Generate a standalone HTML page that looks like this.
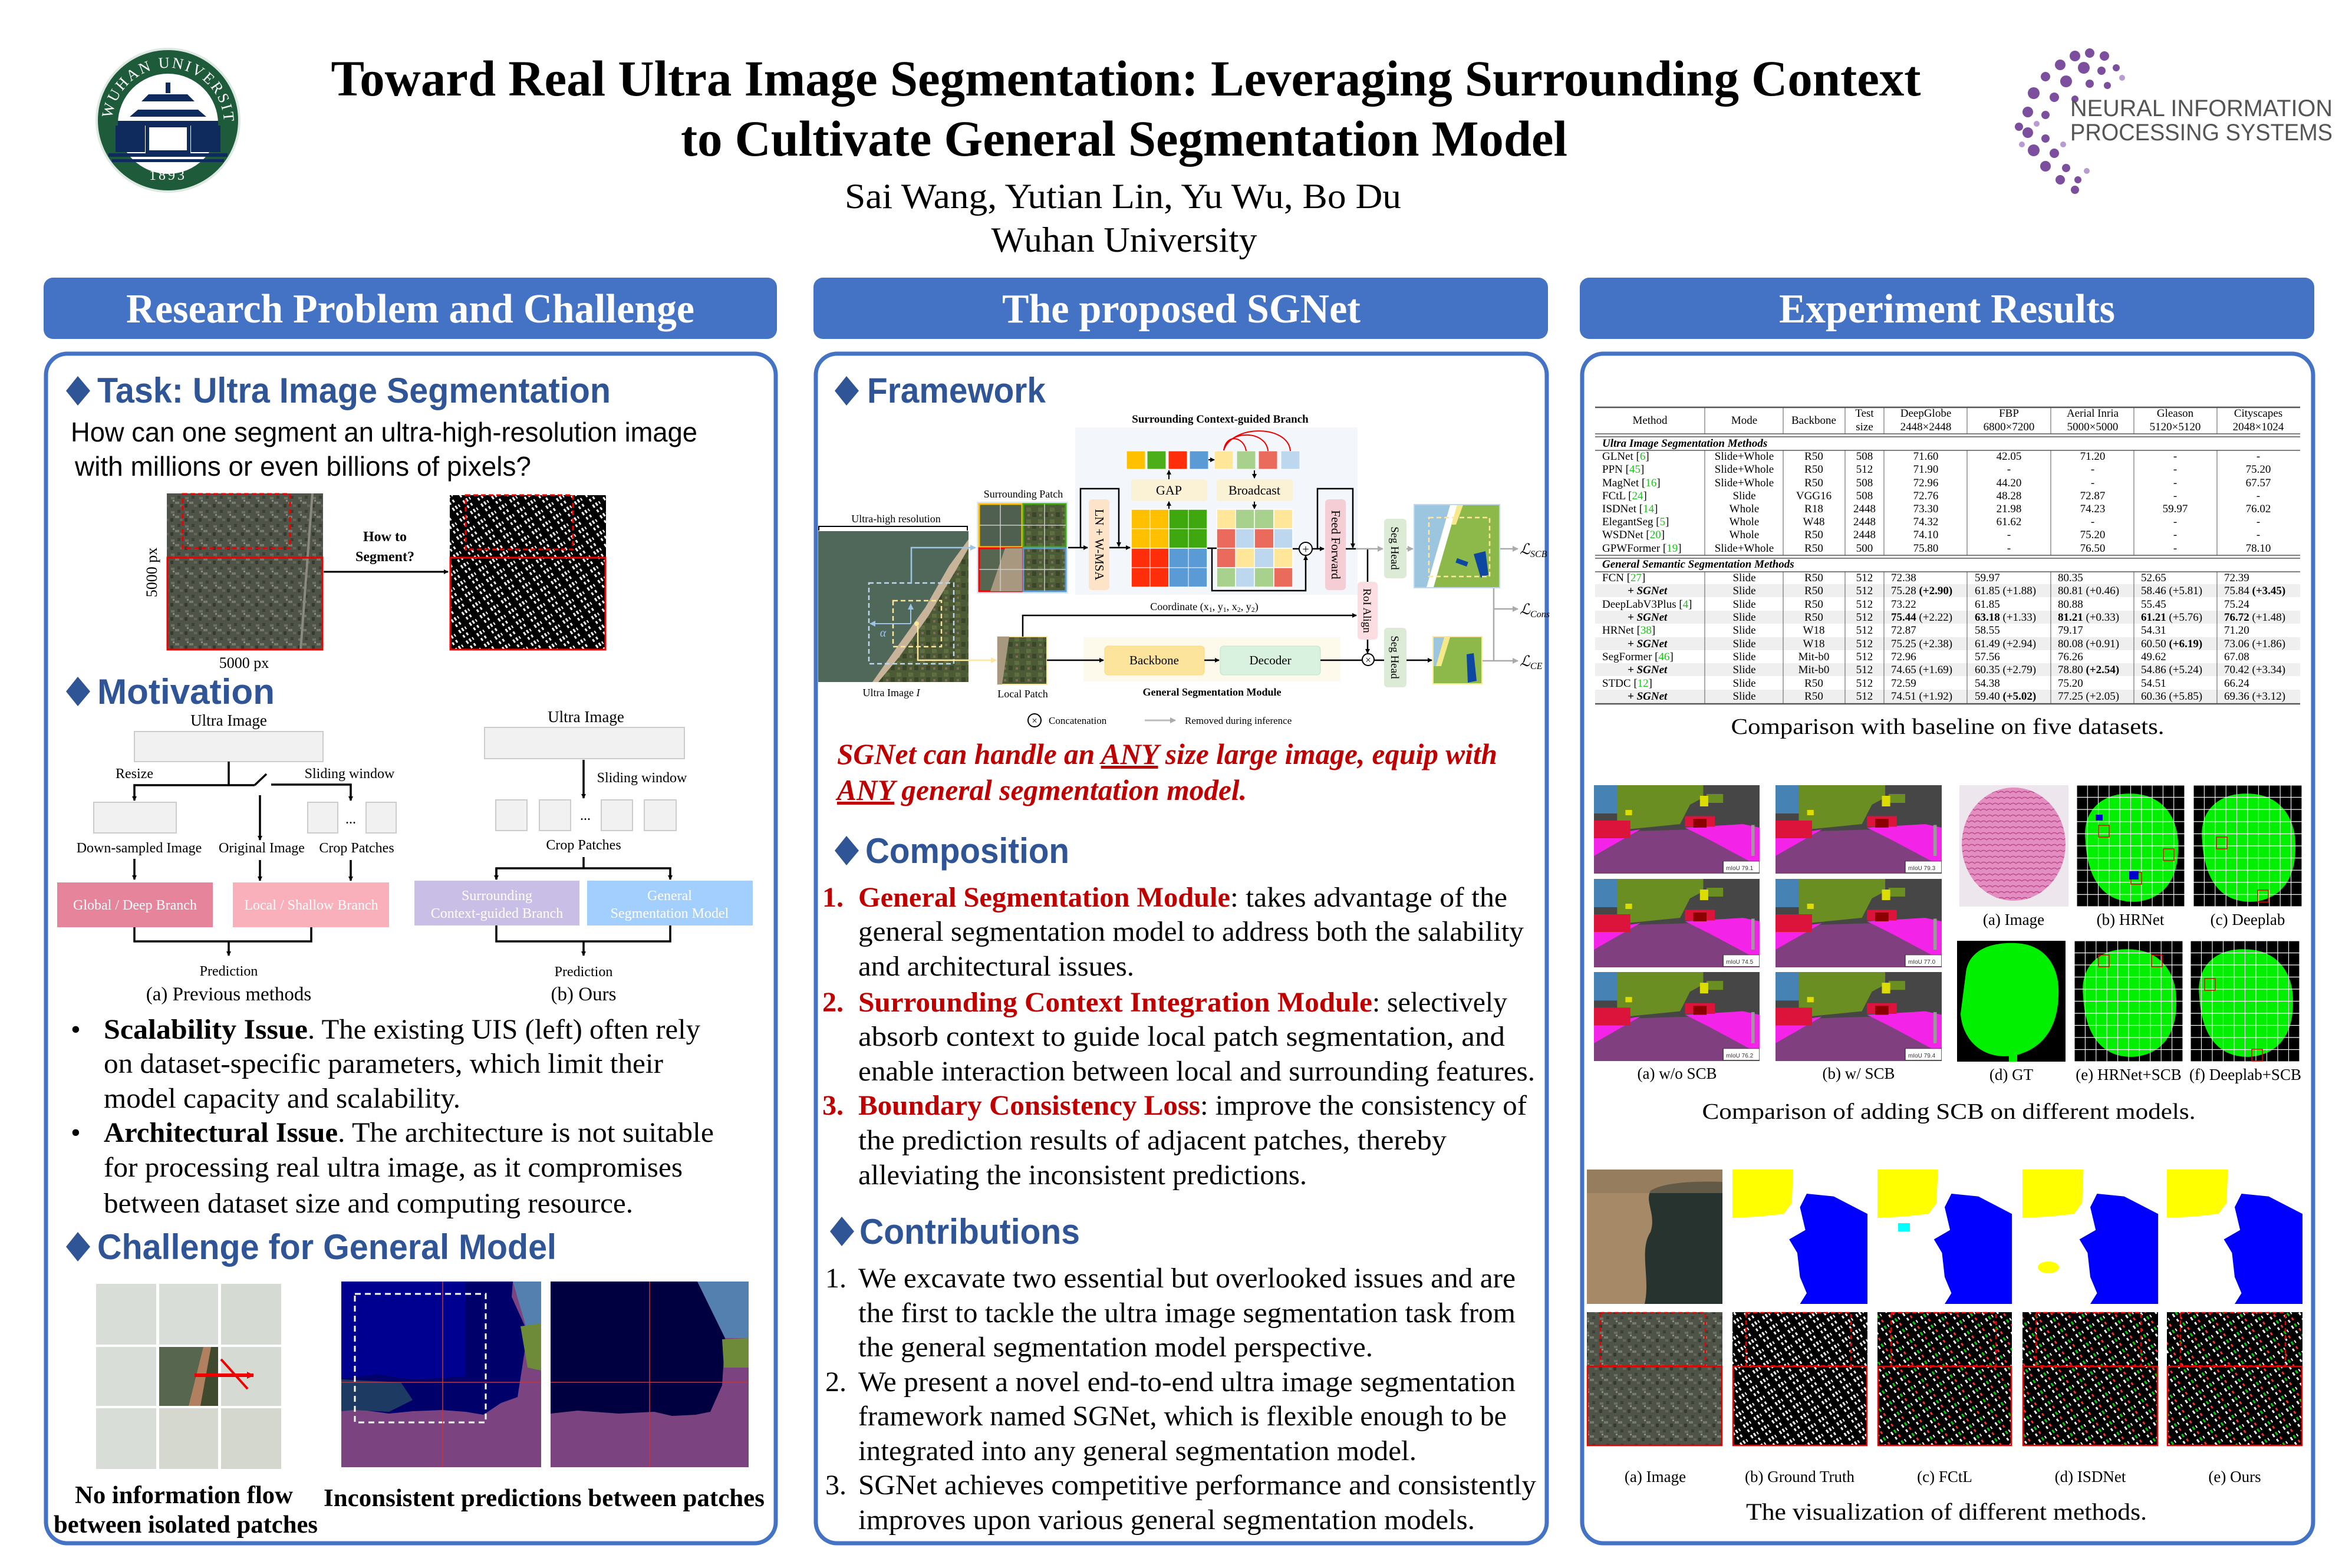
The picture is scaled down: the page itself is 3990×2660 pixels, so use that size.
<!DOCTYPE html>
<html><head><meta charset="utf-8"><style>
html,body{margin:0;padding:0;background:#fff}
svg{display:block}
.s{font-family:"Liberation Serif","Noto Serif CJK SC",serif}
.a{font-family:"Liberation Sans","Noto Sans CJK SC",sans-serif}
.h{font-family:"Liberation Sans",sans-serif;font-weight:bold;fill:#2F5597;font-size:60px}
.hd{font-family:"Liberation Serif",serif;fill:#fff;font-size:70px;text-anchor:middle;font-weight:bold}
.b{font-family:"Liberation Serif",serif;font-size:48px;fill:#000}
.r{fill:#C00000;font-weight:bold}
.t{font-family:"Liberation Serif",serif;font-size:19px;fill:#000}
.tc{text-anchor:middle}
.g{fill:#19C319}
.m{font-family:"Liberation Serif",serif;font-size:24px;fill:#000;text-anchor:middle}
.f{font-family:"Liberation Serif",serif;font-size:19px;fill:#000;text-anchor:middle}
.cap{font-family:"Liberation Serif",serif;font-size:27px;fill:#000;text-anchor:middle}
</style></head><body>
<svg width="3990" height="2660" viewBox="0 0 3990 2660" xmlns="http://www.w3.org/2000/svg">
<defs>
<marker id="ar" markerWidth="8" markerHeight="8" refX="7" refY="4" orient="auto" markerUnits="userSpaceOnUse"><path d="M0,0 L8,4 L0,8 z" fill="#000"/></marker>
<marker id="ag" markerWidth="10" markerHeight="10" refX="9" refY="5" orient="auto" markerUnits="userSpaceOnUse"><path d="M0,0 L10,5 L0,10 z" fill="#aaa"/></marker>
<marker id="ab" markerWidth="10" markerHeight="10" refX="9" refY="5" orient="auto" markerUnits="userSpaceOnUse"><path d="M0,0 L10,5 L0,10 z" fill="#9DC3E6"/></marker>
<marker id="ay" markerWidth="10" markerHeight="10" refX="9" refY="5" orient="auto" markerUnits="userSpaceOnUse"><path d="M0,0 L10,5 L0,10 z" fill="#FFE699"/></marker>
<marker id="ar2" markerWidth="12" markerHeight="12" refX="11" refY="6" orient="auto" markerUnits="userSpaceOnUse"><path d="M0,0 L12,6 L0,12 z" fill="#E00"/></marker>
<pattern id="aer" width="24" height="24" patternUnits="userSpaceOnUse">
<rect width="24" height="24" fill="#4f5448"/>
<rect x="2" y="3" width="6" height="4" fill="#6d7062"/><rect x="13" y="1" width="5" height="5" fill="#3b3f35"/>
<rect x="9" y="11" width="7" height="4" fill="#777a6c"/><rect x="1" y="15" width="5" height="6" fill="#363a31"/>
<rect x="17" y="16" width="5" height="4" fill="#6a6558"/><rect x="5" y="8" width="3" height="3" fill="#908d80"/>
</pattern>
<pattern id="bld" width="22" height="22" patternUnits="userSpaceOnUse" patternTransform="rotate(-35)">
<rect width="22" height="22" fill="#000"/>
<rect x="1" y="2" width="3" height="6" fill="#fff"/><rect x="7" y="2" width="3" height="6" fill="#fff"/><rect x="13" y="3" width="2" height="5" fill="#fff"/>
<rect x="2" y="13" width="3" height="5" fill="#fff"/><rect x="9" y="13" width="3" height="5" fill="#fff"/>
</pattern>
<pattern id="bldg" width="22" height="22" patternUnits="userSpaceOnUse" patternTransform="rotate(-35)">
<rect width="22" height="22" fill="#000"/>
<rect x="1" y="2" width="3" height="6" fill="#fff"/><rect x="7" y="2" width="3" height="6" fill="#0c0"/><rect x="13" y="3" width="2" height="5" fill="#fff"/>
<rect x="2" y="13" width="3" height="5" fill="#fff"/><rect x="9" y="13" width="3" height="5" fill="#e33"/>
</pattern>
<pattern id="land" width="20" height="20" patternUnits="userSpaceOnUse">
<rect width="20" height="20" fill="#4d5a36"/><rect x="1" y="1" width="8" height="7" fill="#5f6e40"/><rect x="11" y="9" width="7" height="8" fill="#3b4529"/><rect x="3" y="12" width="4" height="4" fill="#7b6d5a"/>
</pattern>
<pattern id="tis" width="10" height="10" patternUnits="userSpaceOnUse">
<rect width="10" height="10" fill="#E38DC0"/><path d="M0,5 Q5,0 10,5" stroke="#B94C8E" stroke-width="1.5" fill="none"/>
</pattern>
<symbol id="city" viewBox="0 0 100 100" preserveAspectRatio="none">
<rect width="100" height="100" fill="#464646"/>
<rect width="18" height="32" fill="#4682B4"/>
<polygon points="14,0 66,0 66,14 58,22 52,44 20,50 14,40" fill="#6B8E23"/>
<rect x="68" y="10" width="10" height="10" fill="#6B8E23"/>
<polygon points="0,100 0,70 25,52 60,50 100,68 100,100" fill="#804080"/>
<polygon points="55,48 90,44 100,48 100,92 70,62" fill="#F423E8"/>
<polygon points="0,58 28,50 0,80" fill="#F423E8"/>
<rect x="0" y="40" width="22" height="20" fill="#DC143C"/>
<rect x="55" y="35" width="18" height="12" fill="#DC143C"/>
<rect x="60" y="38" width="8" height="10" fill="#8B0000"/>
<rect x="64" y="12" width="5" height="12" fill="#DCDC00"/><rect x="19" y="28" width="4" height="6" fill="#DCDC00"/>
<rect x="95" y="45" width="2" height="35" fill="#999"/>
<rect x="78" y="86" width="22" height="13" fill="#fff" stroke="#333" stroke-width="0.5"/>
</symbol>
<symbol id="gl" viewBox="0 0 100 100" preserveAspectRatio="none">
<rect width="100" height="100" fill="#000"/>
<path d="M8,45 C5,20 25,6 50,7 C78,7 95,25 94,52 C94,78 80,94 55,96 C25,97 10,78 8,45 Z" fill="#00F000"/>
<rect width="100" height="100" fill="url(#g10)"/>
</symbol>
<pattern id="g10" width="10" height="10" patternUnits="userSpaceOnUse"><rect width="10" height="10" fill="none" stroke="#fff" stroke-width="0.6"/></pattern>
<symbol id="mask" viewBox="0 0 100 100" preserveAspectRatio="none">
<rect width="100" height="100" fill="#fff"/>
<polygon points="0,0 45,0 44,25 38,33 20,35 0,36" fill="#FFFF00"/>
<polygon points="100,33 75,20 55,18 50,28 54,45 42,52 48,62 50,80 55,92 50,100 100,100" fill="#0000FF"/>
</symbol>
</defs>

<!-- ===== HEADER ===== -->
<circle cx="285" cy="204" r="121" fill="#1E5B3A"/>
<circle cx="285" cy="204" r="121" fill="none" stroke="#dfe9e3" stroke-width="4"/>
<circle cx="285" cy="210" r="85" fill="#fff"/>
<path id="arc1" d="M190,210 A95,95 0 0 1 380,210" fill="none"/>
<text class="s" font-size="26" fill="#fff" letter-spacing="3"><textPath href="#arc1" startOffset="3%">WUHAN UNIVERSITY</textPath></text>
<g fill="#0F2A5C">
<rect x="281" y="140" width="8" height="18"/>
<polygon points="240,172 330,172 318,160 252,160"/>
<polygon points="220,198 350,198 336,186 234,186"/>
<rect x="200" y="205" width="170" height="8"/>
<rect x="196" y="213" width="50" height="45"/><rect x="324" y="213" width="50" height="45"/>
<rect x="250" y="213" width="70" height="45" fill="none" stroke="#0F2A5C" stroke-width="6"/>
<rect x="184" y="260" width="202" height="6"/><rect x="190" y="270" width="190" height="5"/>
</g>
<text class="s" x="285" y="305" font-size="24" fill="#fff" text-anchor="middle" letter-spacing="4">1893</text>

<text class="s" x="1910" y="162" font-size="86" font-weight="bold" text-anchor="middle" textLength="2697" lengthAdjust="spacingAndGlyphs">Toward Real Ultra Image Segmentation: Leveraging Surrounding Context</text>
<text class="s" x="1907" y="264" font-size="86" font-weight="bold" text-anchor="middle" textLength="1504" lengthAdjust="spacingAndGlyphs">to Cultivate General Segmentation Model</text>
<text class="s" x="1905" y="353" font-size="60" text-anchor="middle" textLength="944" lengthAdjust="spacingAndGlyphs">Sai Wang, Yutian Lin, Yu Wu, Bo Du</text>
<text class="s" x="1907" y="427" font-size="60" text-anchor="middle" textLength="451" lengthAdjust="spacingAndGlyphs">Wuhan University</text>

<g fill="#7B4F9E">
<circle cx="3520" cy="95" r="9"/><circle cx="3545" cy="90" r="8"/><circle cx="3570" cy="95" r="8"/><circle cx="3495" cy="110" r="9"/><circle cx="3535" cy="115" r="10"/><circle cx="3565" cy="120" r="7"/><circle cx="3590" cy="115" r="6"/>
<circle cx="3470" cy="130" r="8"/><circle cx="3505" cy="138" r="10"/><circle cx="3545" cy="142" r="7"/><circle cx="3575" cy="145" r="6"/>
<circle cx="3450" cy="158" r="10"/><circle cx="3485" cy="165" r="8"/><circle cx="3520" cy="168" r="6"/>
<circle cx="3440" cy="190" r="9"/><circle cx="3470" cy="195" r="7"/><circle cx="3425" cy="215" r="7"/>
<circle cx="3440" cy="225" r="9"/><circle cx="3470" cy="235" r="7"/><circle cx="3450" cy="255" r="10"/><circle cx="3485" cy="260" r="8"/>
<circle cx="3470" cy="282" r="9"/><circle cx="3505" cy="285" r="7"/><circle cx="3495" cy="305" r="8"/><circle cx="3525" cy="305" r="6"/><circle cx="3520" cy="322" r="7"/>
</g>
<g fill="#B89BD0"><circle cx="3600" cy="132" r="5"/><circle cx="3455" cy="210" r="5"/><circle cx="3430" cy="245" r="5"/><circle cx="3500" cy="245" r="5"/><circle cx="3540" cy="290" r="5"/></g>
<text class="a" x="3512" y="197" font-size="40" fill="#555" textLength="445" lengthAdjust="spacingAndGlyphs">NEURAL INFORMATION</text>
<text class="a" x="3512" y="238" font-size="40" fill="#555" textLength="445" lengthAdjust="spacingAndGlyphs">PROCESSING SYSTEMS</text>

<!-- ===== SECTION HEADERS & BOXES ===== -->
<g fill="#4472C4">
<rect x="74" y="471" width="1244" height="104" rx="16"/>
<rect x="1380" y="471" width="1246" height="104" rx="16"/>
<rect x="2680" y="471" width="1246" height="104" rx="16"/>
</g>
<text class="hd" x="696" y="547" textLength="964" lengthAdjust="spacingAndGlyphs">Research Problem and Challenge</text>
<text class="hd" x="2004" y="547" textLength="608" lengthAdjust="spacingAndGlyphs">The proposed SGNet</text>
<text class="hd" x="3303" y="547" textLength="570" lengthAdjust="spacingAndGlyphs">Experiment Results</text>
<g fill="none" stroke="#4472C4" stroke-width="7">
<rect x="78" y="600" width="1238" height="2018" rx="36"/>
<rect x="1384" y="600" width="1240" height="2018" rx="36"/>
<rect x="2684" y="600" width="1240" height="2018" rx="36"/>
</g>

<!-- ===== LEFT COLUMN ===== -->
<polygon points="132,638 153,663 132,688 112,663" fill="#2F5597"/>
<text class="h" x="165" y="683" textLength="871" lengthAdjust="spacingAndGlyphs">Task: Ultra Image Segmentation</text>
<text class="a" x="120" y="749" font-size="46" textLength="1063" lengthAdjust="spacingAndGlyphs">How can one segment an ultra-high-resolution image</text>
<text class="a" x="127" y="807" font-size="46" textLength="774" lengthAdjust="spacingAndGlyphs">with millions or even billions of pixels?</text>
<rect x="283" y="837" width="265" height="265" fill="url(#aer)"/>
<line x1="530" y1="837" x2="510" y2="1102" stroke="#8a8a80" stroke-width="4"/>
<rect x="284" y="946" width="263" height="156" fill="none" stroke="#E00" stroke-width="3"/>
<rect x="310" y="838" width="182" height="92" fill="none" stroke="#E00" stroke-width="3" stroke-dasharray="8,5"/>
<rect x="763" y="840" width="265" height="262" fill="url(#bld)"/>
<rect x="764" y="946" width="263" height="156" fill="none" stroke="#E00" stroke-width="3"/>
<rect x="790" y="840" width="182" height="92" fill="none" stroke="#E00" stroke-width="3" stroke-dasharray="8,5"/>
<line x1="549" y1="970" x2="760" y2="970" stroke="#000" stroke-width="3" marker-end="url(#ar)"/>
<text class="s" x="653" y="918" font-size="24" font-weight="bold" text-anchor="middle">How to</text>
<text class="s" x="653" y="952" font-size="24" font-weight="bold" text-anchor="middle">Segment?</text>
<text class="s" x="0" y="0" font-size="26" text-anchor="middle" transform="translate(266,971) rotate(-90)">5000 px</text>
<text class="s" x="414" y="1133" font-size="26" text-anchor="middle">5000 px</text>

<polygon points="132,1148 153,1173 132,1198 112,1173" fill="#2F5597"/>
<text class="h" x="165" y="1194" textLength="301" lengthAdjust="spacingAndGlyphs">Motivation</text>

<!-- motivation (a) -->
<text class="m" x="388" y="1231" style="font-size:27px">Ultra Image</text>
<rect x="228" y="1241" width="320" height="51" fill="#F1F1F1" stroke="#ccc" stroke-width="2"/>
<g stroke="#000" stroke-width="3.5" fill="none">
<line x1="388" y1="1292" x2="388" y2="1332"/>
<polyline points="432,1332 228,1332 228,1358" marker-end="url(#ar)"/>
<line x1="432" y1="1332" x2="452" y2="1313"/>
<polyline points="460,1331 595,1331 595,1358" marker-end="url(#ar)"/>
<line x1="441" y1="1349" x2="441" y2="1425" marker-end="url(#ar)"/>
<line x1="228" y1="1457" x2="228" y2="1492" marker-end="url(#ar)"/>
<line x1="441" y1="1459" x2="441" y2="1494" marker-end="url(#ar)"/>
<line x1="595" y1="1459" x2="595" y2="1494" marker-end="url(#ar)"/>
<polyline points="228,1573 228,1597 528,1597 528,1573"/>
<line x1="388" y1="1597" x2="388" y2="1621" marker-end="url(#ar)"/>
</g>
<text class="m" x="228" y="1320">Resize</text>
<text class="m" x="593" y="1320">Sliding window</text>
<rect x="159" y="1361" width="140" height="52" fill="#F1F1F1" stroke="#ccc" stroke-width="2"/>
<rect x="522" y="1361" width="51" height="52" fill="#F1F1F1" stroke="#ccc" stroke-width="2"/>
<rect x="621" y="1361" width="51" height="52" fill="#F1F1F1" stroke="#ccc" stroke-width="2"/>
<text class="m" x="595" y="1397">...</text>
<text class="m" x="236" y="1446">Down-sampled Image</text>
<text class="m" x="444" y="1446">Original Image</text>
<text class="m" x="605" y="1446">Crop Patches</text>
<rect x="97" y="1497" width="264" height="76" fill="#E6849C"/>
<rect x="395" y="1497" width="265" height="76" fill="#F9B0BB"/>
<text class="m" x="229" y="1543" style="fill:#fff">Global / Deep Branch</text>
<text class="m" x="528" y="1543" style="fill:#fff">Local / Shallow Branch</text>
<text class="m" x="388" y="1655">Prediction</text>
<text class="m" x="388" y="1697" style="font-size:33px">(a) Previous methods</text>
<!-- motivation (b) -->
<text class="m" x="994" y="1225" style="font-size:27px">Ultra Image</text>
<rect x="822" y="1234" width="339" height="53" fill="#F1F1F1" stroke="#ccc" stroke-width="2"/>
<g stroke="#000" stroke-width="3.5" fill="none">
<line x1="990" y1="1289" x2="990" y2="1354" marker-end="url(#ar)"/>
<line x1="990" y1="1454" x2="990" y2="1473"/>
<polyline points="842,1492 842,1473 1137,1473 1137,1492" marker-end="url(#ar)"/>
<polyline points="842,1570 842,1597 1137,1597 1137,1570"/>
<line x1="990" y1="1597" x2="990" y2="1621" marker-end="url(#ar)"/>
</g>
<line x1="842" y1="1473" x2="842" y2="1492" stroke="#000" stroke-width="3.5" marker-end="url(#ar)"/>
<text class="m" x="1089" y="1327">Sliding window</text>
<rect x="841" y="1357" width="53" height="52" fill="#F1F1F1" stroke="#ccc" stroke-width="2"/>
<rect x="915" y="1357" width="53" height="52" fill="#F1F1F1" stroke="#ccc" stroke-width="2"/>
<rect x="1020" y="1357" width="53" height="52" fill="#F1F1F1" stroke="#ccc" stroke-width="2"/>
<rect x="1093" y="1357" width="54" height="52" fill="#F1F1F1" stroke="#ccc" stroke-width="2"/>
<text class="m" x="993" y="1391">...</text>
<text class="m" x="990" y="1441">Crop Patches</text>
<rect x="703" y="1494" width="280" height="76" fill="#C8BEE6"/>
<rect x="996" y="1494" width="281" height="76" fill="#A3CFFF"/>
<text class="m" x="843" y="1527" style="fill:#fff">Surrounding</text>
<text class="m" x="843" y="1557" style="fill:#fff">Context-guided Branch</text>
<text class="m" x="1136" y="1527" style="fill:#fff">General</text>
<text class="m" x="1136" y="1557" style="fill:#fff">Segmentation Model</text>
<text class="m" x="990" y="1656">Prediction</text>
<text class="m" x="990" y="1697" style="font-size:33px">(b) Ours</text>

<!-- bullets -->
<g class="b">
<text x="120" y="1762">•</text>
<text x="176" y="1762" font-weight="bold" textLength="346" lengthAdjust="spacingAndGlyphs">Scalability Issue</text>
<text x="522" y="1762" textLength="666" lengthAdjust="spacingAndGlyphs">. The existing UIS (left) often rely</text>
<text x="176" y="1820" textLength="949" lengthAdjust="spacingAndGlyphs">on dataset-specific parameters, which limit their</text>
<text x="176" y="1879" textLength="605" lengthAdjust="spacingAndGlyphs">model capacity and scalability.</text>
<text x="120" y="1937">•</text>
<text x="176" y="1937" font-weight="bold" textLength="397" lengthAdjust="spacingAndGlyphs">Architectural Issue</text>
<text x="573" y="1937" textLength="638" lengthAdjust="spacingAndGlyphs">. The architecture is not suitable</text>
<text x="176" y="1996" textLength="982" lengthAdjust="spacingAndGlyphs">for processing real ultra image, as it compromises</text>
<text x="176" y="2057" textLength="898" lengthAdjust="spacingAndGlyphs">between dataset size and computing resource.</text>
</g>

<polygon points="132,2090 153,2115 132,2140 112,2115" fill="#2F5597"/>
<text class="h" x="165" y="2136" textLength="779" lengthAdjust="spacingAndGlyphs">Challenge for General Model</text>
<g fill="#D8DDD8">
<rect x="163" y="2178" width="102" height="103"/><rect x="270" y="2178" width="100" height="103"/><rect x="375" y="2178" width="102" height="103" fill="#D5DAD2"/>
<rect x="163" y="2285" width="102" height="100"/><rect x="375" y="2285" width="102" height="100" fill="#D5DAD2"/>
<rect x="163" y="2389" width="102" height="103"/><rect x="270" y="2389" width="100" height="103" fill="#D5D8CF"/><rect x="375" y="2389" width="102" height="103" fill="#D3D7CE"/>
</g>
<rect x="270" y="2285" width="100" height="100" fill="#56664F"/>
<polygon points="345,2285 370,2285 370,2385 320,2385" fill="#B08060"/>
<polygon points="358,2285 370,2285 370,2385 340,2385" fill="#3F4A2E"/>
<line x1="330" y1="2333" x2="430" y2="2333" stroke="#E00" stroke-width="6" marker-end="url(#ar2)"/>
<line x1="375" y1="2306" x2="420" y2="2356" stroke="#E00" stroke-width="4"/>
<rect x="579" y="2174" width="339" height="315" fill="#7B4380"/>
<polygon points="579,2174 870,2174 868,2200 895,2260 878,2370 850,2380 820,2400 790,2395 750,2392 700,2394 660,2398 600,2390 579,2392" fill="#00006A"/>
<polygon points="579,2174 790,2174 790,2335 700,2340 640,2332 579,2338" fill="#000090"/>
<polygon points="579,2340 680,2345 700,2375 660,2395 600,2392 579,2394" fill="#1D3B62"/>
<polygon points="870,2174 918,2174 918,2275 895,2260" fill="#5480B0"/>
<polygon points="883,2250 918,2245 918,2325 895,2320" fill="#6E8B3A"/>
<rect x="602" y="2195" width="222" height="218" fill="none" stroke="#fff" stroke-width="3" stroke-dasharray="10,7"/>
<line x1="579" y1="2345" x2="918" y2="2345" stroke="#C33" stroke-width="1.5"/>
<line x1="751" y1="2174" x2="751" y2="2489" stroke="#C33" stroke-width="1.5"/>
<rect x="934" y="2174" width="336" height="315" fill="#7B4380"/>
<polygon points="934,2174 1183,2174 1230,2270 1225,2350 1205,2395 1180,2400 1140,2402 1110,2395 1050,2398 980,2393 934,2398" fill="#000040"/>
<polygon points="1183,2174 1270,2174 1270,2270 1230,2270" fill="#5480B0"/>
<polygon points="1225,2272 1270,2270 1270,2320 1228,2320" fill="#6E8B3A"/>
<line x1="934" y1="2345" x2="1270" y2="2345" stroke="#C33" stroke-width="1.5"/>
<line x1="1102" y1="2174" x2="1102" y2="2489" stroke="#C33" stroke-width="1.5"/>
<text class="s" x="312" y="2550" font-size="42" font-weight="bold" text-anchor="middle" textLength="370" lengthAdjust="spacingAndGlyphs">No information flow</text>
<text class="s" x="315" y="2600" font-size="42" font-weight="bold" text-anchor="middle" textLength="448" lengthAdjust="spacingAndGlyphs">between isolated patches</text>
<text class="s" x="923" y="2555" font-size="42" font-weight="bold" text-anchor="middle" textLength="748" lengthAdjust="spacingAndGlyphs">Inconsistent predictions between patches</text>

<!-- ===== MIDDLE COLUMN ===== -->
<polygon points="1436,638 1457,663 1436,688 1416,663" fill="#2F5597"/>
<text class="h" x="1471" y="683" textLength="303" lengthAdjust="spacingAndGlyphs">Framework</text>
<text class="f" x="2070" y="717" font-weight="bold" style="font-size:19px">Surrounding Context-guided Branch</text>
<rect x="1824" y="725" width="479" height="284" fill="#F3F6FA"/>
<g stroke="#fff" stroke-width="1">
<rect x="1911" y="765" width="32" height="31" fill="#FFC000"/><rect x="1946" y="765" width="32" height="31" fill="#4CAF1A"/><rect x="1982" y="765" width="32" height="31" fill="#FF2E0A"/><rect x="2018" y="765" width="32" height="31" fill="#5B9BD5"/>
<rect x="2060" y="765" width="32" height="31" fill="#FFE699"/><rect x="2098" y="765" width="32" height="31" fill="#A9D18E"/><rect x="2135" y="765" width="32" height="31" fill="#EA6B5B"/><rect x="2173" y="765" width="32" height="31" fill="#BDD7EE"/>
</g>
<line x1="2050" y1="780" x2="2060" y2="780" stroke="#000" stroke-width="2" marker-end="url(#ar)"/>
<g stroke="#E00" stroke-width="2" fill="none">
<path d="M2114,765 C2110,740 2080,735 2076,764"/><path d="M2151,765 C2148,730 2085,728 2076,764"/><path d="M2189,765 C2185,720 2090,720 2076,764"/>
</g>
<rect x="1919" y="813" width="129" height="37" rx="5" fill="#FBF1D5"/><text class="f" x="1983" y="839" style="font-size:22px">GAP</text>
<rect x="2064" y="813" width="129" height="37" rx="5" fill="#FBF1D5"/><text class="f" x="2128" y="839" style="font-size:22px">Broadcast</text>
<g stroke="#000" stroke-width="2">
<line x1="1983" y1="813" x2="1983" y2="798" marker-end="url(#ar)"/><line x1="2128" y1="798" x2="2128" y2="811" marker-end="url(#ar)"/>
<line x1="1983" y1="864" x2="1983" y2="851" marker-end="url(#ar)"/><line x1="2128" y1="851" x2="2128" y2="863" marker-end="url(#ar)"/>
</g>
<g stroke="#fff" stroke-width="1.5">
<rect x="1919" y="864" width="64" height="66" fill="#FFC000"/><rect x="1983" y="864" width="65" height="66" fill="#3FA80E"/>
<rect x="1919" y="930" width="64" height="66" fill="#FF2E0A"/><rect x="1983" y="930" width="65" height="66" fill="#5B9BD5"/>
</g>
<g stroke="#fff" stroke-width="1"><line x1="1951" y1="864" x2="1951" y2="996"/><line x1="2016" y1="864" x2="2016" y2="996"/><line x1="1919" y1="897" x2="2048" y2="897"/><line x1="1919" y1="963" x2="2048" y2="963"/></g>
<g stroke="#fff" stroke-width="1.5">
<rect x="2064" y="864" width="32" height="33" fill="#FFE699"/><rect x="2096" y="864" width="32" height="33" fill="#A9D18E"/><rect x="2128" y="864" width="33" height="33" fill="#A9D18E"/><rect x="2161" y="864" width="32" height="33" fill="#FFE699"/>
<rect x="2064" y="897" width="32" height="33" fill="#EA6B5B"/><rect x="2096" y="897" width="32" height="33" fill="#BDD7EE"/><rect x="2128" y="897" width="33" height="33" fill="#EA6B5B"/><rect x="2161" y="897" width="32" height="33" fill="#BDD7EE"/>
<rect x="2064" y="930" width="32" height="33" fill="#EA6B5B"/><rect x="2096" y="930" width="32" height="33" fill="#FFE699"/><rect x="2128" y="930" width="33" height="33" fill="#BDD7EE"/><rect x="2161" y="930" width="32" height="33" fill="#FFE699"/>
<rect x="2064" y="963" width="32" height="33" fill="#A9D18E"/><rect x="2096" y="963" width="32" height="33" fill="#BDD7EE"/><rect x="2128" y="963" width="33" height="33" fill="#A9D18E"/><rect x="2161" y="963" width="32" height="33" fill="#EA6B5B"/>
</g>
<rect x="1847" y="847" width="35" height="154" rx="6" fill="#FDE3C8"/>
<text class="f" x="0" y="0" transform="translate(1858,924) rotate(90)" style="font-size:21px">LN + W-MSA</text>
<rect x="2248" y="847" width="35" height="154" rx="6" fill="#F5CDD5"/>
<text class="f" x="0" y="0" transform="translate(2259,924) rotate(90)" style="font-size:21px">Feed Forward</text>
<text class="f" x="1736" y="844" style="font-size:18px">Surrounding Patch</text>
<rect x="1657" y="851" width="155" height="156" fill="#DCE8F5"/>
<rect x="1661" y="855" width="73" height="73" fill="#4F5F50" stroke="#FFC000" stroke-width="3"/>
<rect x="1736" y="855" width="72" height="73" fill="url(#land)" stroke="#3FA80E" stroke-width="3"/>
<rect x="1661" y="930" width="73" height="73" fill="#566650" stroke="#FF0000" stroke-width="3"/>
<polygon points="1705,930 1734,930 1734,1003 1680,1003" fill="#A89880"/>
<rect x="1736" y="930" width="72" height="73" fill="url(#land)" stroke="#5B9BD5" stroke-width="3"/>
<g stroke="#ccc" stroke-width="1.5"><line x1="1697" y1="855" x2="1697" y2="1003"/><line x1="1772" y1="855" x2="1772" y2="1003"/><line x1="1661" y1="891" x2="1808" y2="891"/><line x1="1661" y1="966" x2="1808" y2="966"/></g>
<text class="f" x="1520" y="886" style="font-size:18px">Ultra-high resolution</text>
<polyline points="1389,900 1389,893 1641,893 1641,900" fill="none" stroke="#000" stroke-width="2"/>
<rect x="1388" y="901" width="255" height="256" fill="url(#land)"/>
<polygon points="1388,901 1643,901 1643,915 1610,960 1570,1030 1520,1100 1480,1157 1388,1157" fill="#50685A"/>
<polygon points="1610,960 1643,915 1643,930 1620,970 1575,1045 1525,1115 1490,1157 1480,1157 1520,1100 1570,1030" fill="#C8B49A"/>
<rect x="1474" y="989" width="144" height="137" fill="none" stroke="#BDD7EE" stroke-width="2.5" stroke-dasharray="8,5"/>
<rect x="1515" y="1019" width="82" height="78" fill="none" stroke="#FFE699" stroke-width="2.5" stroke-dasharray="8,5"/>
<circle cx="1555" cy="1058" r="4" fill="#FFE699"/>
<line x1="1545" y1="1058" x2="1476" y2="1058" stroke="#9DC3E6" stroke-width="2" marker-end="url(#ab)"/>
<line x1="1545" y1="1058" x2="1545" y2="1025" stroke="#9DC3E6" stroke-width="2" marker-end="url(#ab)"/>
<text class="f" x="1498" y="1080" font-style="italic" style="fill:#9DC3E6;font-size:20px">α</text>
<polyline points="1546,989 1546,929 1655,929" fill="none" stroke="#9DC3E6" stroke-width="2.5" marker-end="url(#ab)"/>
<polyline points="1557,1062 1557,1120 1690,1120" fill="none" stroke="#FFE699" stroke-width="2.5" marker-end="url(#ay)"/>
<text class="f" x="1512" y="1181" style="font-size:18px">Ultra Image <tspan font-style="italic">I</tspan></text>
<rect x="1692" y="1080" width="84" height="81" fill="url(#land)" stroke="#FFE699" stroke-width="2"/>
<polygon points="1692,1080 1712,1080 1700,1161 1692,1161" fill="#A89880"/>
<text class="f" x="1735" y="1183" style="font-size:18px">Local Patch</text>
<rect x="1838" y="1081" width="436" height="75" fill="#FEFAEB"/>
<rect x="1874" y="1096" width="169" height="49" rx="6" fill="#FCE49C" stroke="#F9D97A"/>
<text class="f" x="1958" y="1127" style="font-size:21px">Backbone</text>
<rect x="2070" y="1096" width="170" height="49" rx="6" fill="#D9F2DF" stroke="#BFE4C7"/>
<text class="f" x="2155" y="1127" style="font-size:21px">Decoder</text>
<text class="f" x="2056" y="1180" font-weight="bold" style="font-size:18px">General Segmentation Module</text>
<g stroke="#000" stroke-width="2.5" fill="none">
<line x1="1812" y1="929" x2="1845" y2="929" marker-end="url(#ar)"/>
<polyline points="1833,929 1833,829 1898,829 1898,927" marker-end="url(#ar)"/>
<line x1="1882" y1="929" x2="1917" y2="929" marker-end="url(#ar)"/>
<line x1="2048" y1="930" x2="2064" y2="930"/>
<polyline points="2056,930 2056,1002 2215,1002 2215,943" marker-end="url(#ar)"/>
<line x1="2193" y1="931" x2="2204" y2="931"/>
<line x1="2226" y1="931" x2="2246" y2="931" marker-end="url(#ar)"/>
<polyline points="2235,931 2235,829 2295,829 2295,929" marker-end="url(#ar)"/>
<line x1="2283" y1="931" x2="2300" y2="931"/>
<line x1="2320" y1="931" x2="2320" y2="987"/>
<line x1="2320" y1="1085" x2="2320" y2="1108" marker-end="url(#ar)"/>
<polyline points="1735,1080 1735,1044 2301,1044" marker-end="url(#ar)"/>
<line x1="1776" y1="1120" x2="1872" y2="1120" marker-end="url(#ar)"/>
<line x1="2043" y1="1120" x2="2068" y2="1120" marker-end="url(#ar)"/>
<line x1="2240" y1="1120" x2="2310" y2="1120"/>
<line x1="2331" y1="1120" x2="2348" y2="1120"/>
<line x1="2386" y1="1120" x2="2429" y2="1120" marker-end="url(#ar)"/>
</g>
<circle cx="2215" cy="931" r="11" fill="#fff" stroke="#000" stroke-width="2"/>
<text class="f" x="2215" y="938" style="font-size:20px">+</text>
<circle cx="2321" cy="1119" r="10" fill="#fff" stroke="#000" stroke-width="2"/>
<text class="f" x="2321" y="1125" style="font-size:17px">×</text>
<text class="f" x="2043" y="1035" style="font-size:18px">Coordinate (x<tspan font-size="12" dy="3">1</tspan><tspan dy="-3">, y</tspan><tspan font-size="12" dy="3">1</tspan><tspan dy="-3">, x</tspan><tspan font-size="12" dy="3">2</tspan><tspan dy="-3">, y</tspan><tspan font-size="12" dy="3">2</tspan><tspan dy="-3">)</tspan></text>
<rect x="2303" y="987" width="34" height="98" rx="6" fill="#FBDDE2"/>
<text class="f" x="0" y="0" transform="translate(2313,1036) rotate(90)" style="font-size:19px">RoI Align</text>
<g stroke="#aaa" stroke-width="2.5" fill="none">
<line x1="2300" y1="931" x2="2346" y2="931" marker-end="url(#ag)"/>
<line x1="2386" y1="931" x2="2397" y2="931" marker-end="url(#ag)"/>
<line x1="2544" y1="931" x2="2575" y2="931" marker-end="url(#ag)"/>
<line x1="2534" y1="931" x2="2534" y2="1121"/>
<line x1="2534" y1="1033" x2="2575" y2="1033" marker-end="url(#ag)"/>
<line x1="2514" y1="1121" x2="2575" y2="1121" marker-end="url(#ag)"/>
</g>
<rect x="2348" y="880" width="38" height="101" rx="6" fill="#DCEBD6"/>
<text class="f" x="0" y="0" transform="translate(2360,930) rotate(90)" style="font-size:19px">Seg Head</text>
<rect x="2348" y="1065" width="38" height="101" rx="6" fill="#DCEBD6"/>
<text class="f" x="0" y="0" transform="translate(2360,1115) rotate(90)" style="font-size:19px">Seg Head</text>
<rect x="2399" y="856" width="145" height="141" fill="#8DB84A" stroke="#BDD7EE" stroke-width="2"/>
<polygon points="2400,857 2460,857 2420,996 2400,996" fill="#9CC5E0"/>
<polygon points="2460,857 2472,857 2432,996 2420,996" fill="#fff"/>
<polygon points="2472,857 2482,857 2470,890 2462,890" fill="#F6E98A"/>
<polygon points="2500,940 2520,935 2525,975 2512,980" fill="#0D47A1"/><rect x="2470" y="950" width="20" height="8" fill="#0D47A1" transform="rotate(20 2480 954)"/>
<rect x="2424" y="878" width="103" height="100" fill="none" stroke="#FFE699" stroke-width="2.5" stroke-dasharray="8,5"/>
<rect x="2431" y="1080" width="83" height="80" fill="#8DB84A" stroke="#FFE699" stroke-width="2"/>
<polygon points="2432,1081 2450,1081 2436,1130 2432,1130" fill="#9CC5E0"/>
<polygon points="2450,1081 2460,1081 2445,1130 2436,1130" fill="#F6E98A"/>
<polygon points="2488,1110 2500,1108 2505,1155 2490,1158" fill="#0D47A1"/>
<text class="s" x="2578" y="940" font-size="25" font-style="italic">ℒ<tspan font-size="16" dy="5">SCB</tspan></text>
<text class="s" x="2578" y="1042" font-size="25" font-style="italic">ℒ<tspan font-size="16" dy="5">Cons</tspan></text>
<text class="s" x="2578" y="1130" font-size="25" font-style="italic">ℒ<tspan font-size="16" dy="5">CE</tspan></text>
<circle cx="1755" cy="1222" r="11" fill="#fff" stroke="#000" stroke-width="2"/>
<text class="f" x="1755" y="1228" style="font-size:17px">×</text>
<text class="s" x="1779" y="1228" font-size="17">Concatenation</text>
<line x1="1942" y1="1222" x2="1994" y2="1222" stroke="#bbb" stroke-width="3" marker-end="url(#ag)"/>
<text class="s" x="2010" y="1228" font-size="17">Removed during inference</text>

<text class="s" x="1420" y="1296" font-size="50" font-weight="bold" font-style="italic" fill="#C00000" textLength="1120" lengthAdjust="spacingAndGlyphs">SGNet can handle an <tspan text-decoration="underline">ANY</tspan> size large image, equip with</text>
<text class="s" x="1420" y="1357" font-size="50" font-weight="bold" font-style="italic" fill="#C00000" textLength="695" lengthAdjust="spacingAndGlyphs"><tspan text-decoration="underline">ANY</tspan> general segmentation model.</text>

<polygon points="1436,1418 1457,1443 1436,1468 1416,1443" fill="#2F5597"/>
<text class="h" x="1468" y="1464" textLength="346" lengthAdjust="spacingAndGlyphs">Composition</text>
<g class="b">
<text x="1395" y="1538" style="fill:#C00000;font-weight:bold">1.</text>
<text x="1456" y="1538" style="fill:#C00000;font-weight:bold" textLength="631" lengthAdjust="spacingAndGlyphs">General Segmentation Module</text>
<text x="2087" y="1538" textLength="470" lengthAdjust="spacingAndGlyphs">: takes advantage of the</text>
<text x="1456" y="1596" textLength="1129" lengthAdjust="spacingAndGlyphs">general segmentation model to address both the salability</text>
<text x="1456" y="1655" textLength="468" lengthAdjust="spacingAndGlyphs">and architectural issues.</text>
<text x="1395" y="1716" style="fill:#C00000;font-weight:bold">2.</text>
<text x="1456" y="1716" style="fill:#C00000;font-weight:bold" textLength="872" lengthAdjust="spacingAndGlyphs">Surrounding Context Integration Module</text>
<text x="2328" y="1716" textLength="229" lengthAdjust="spacingAndGlyphs">: selectively</text>
<text x="1456" y="1774" textLength="1097" lengthAdjust="spacingAndGlyphs">absorb context to guide local patch segmentation, and</text>
<text x="1456" y="1833" textLength="1148" lengthAdjust="spacingAndGlyphs">enable interaction between local and surrounding features.</text>
<text x="1395" y="1891" style="fill:#C00000;font-weight:bold">3.</text>
<text x="1456" y="1891" style="fill:#C00000;font-weight:bold" textLength="580" lengthAdjust="spacingAndGlyphs">Boundary Consistency Loss</text>
<text x="2036" y="1891" textLength="554" lengthAdjust="spacingAndGlyphs">: improve the consistency of</text>
<text x="1456" y="1950" textLength="998" lengthAdjust="spacingAndGlyphs">the prediction results of adjacent patches, thereby</text>
<text x="1456" y="2009" textLength="761" lengthAdjust="spacingAndGlyphs">alleviating the inconsistent predictions.</text>
</g>
<polygon points="1428,2064 1449,2089 1428,2114 1408,2089" fill="#2F5597"/>
<text class="h" x="1458" y="2110" textLength="374" lengthAdjust="spacingAndGlyphs">Contributions</text>
<g class="b">
<text x="1400" y="2184">1.</text>
<text x="1456" y="2184" textLength="1115" lengthAdjust="spacingAndGlyphs">We excavate two essential but overlooked issues and are</text>
<text x="1456" y="2243" textLength="1115" lengthAdjust="spacingAndGlyphs">the first to tackle the ultra image segmentation task from</text>
<text x="1456" y="2301" textLength="873" lengthAdjust="spacingAndGlyphs">the general segmentation model perspective.</text>
<text x="1400" y="2360">2.</text>
<text x="1456" y="2360" textLength="1115" lengthAdjust="spacingAndGlyphs">We present a novel end-to-end ultra image segmentation</text>
<text x="1456" y="2418" textLength="1100" lengthAdjust="spacingAndGlyphs">framework named SGNet, which is flexible enough to be</text>
<text x="1456" y="2477" textLength="947" lengthAdjust="spacingAndGlyphs">integrated into any general segmentation model.</text>
<text x="1400" y="2535">3.</text>
<text x="1456" y="2535" textLength="1150" lengthAdjust="spacingAndGlyphs">SGNet achieves competitive performance and consistently</text>
<text x="1456" y="2594" textLength="1046" lengthAdjust="spacingAndGlyphs">improves upon various general segmentation models.</text>
</g>

<!-- ===== RIGHT COLUMN: TABLE ===== -->
<g fill="#EFEFEF">
<rect x="2706" y="991" width="1196" height="22"/><rect x="2706" y="1036" width="1196" height="22"/><rect x="2706" y="1081" width="1196" height="22"/><rect x="2706" y="1125" width="1196" height="22"/><rect x="2706" y="1170" width="1196" height="22"/>
</g>
<g stroke="#555" stroke-width="1.5">
<line x1="2706" y1="691" x2="3902" y2="691" stroke-width="2.5"/>
<line x1="2706" y1="736" x2="3902" y2="736"/><line x1="2706" y1="741" x2="3902" y2="741"/>
<line x1="2706" y1="764" x2="3902" y2="764"/>
<line x1="2706" y1="942" x2="3902" y2="942"/><line x1="2706" y1="947" x2="3902" y2="947"/>
<line x1="2706" y1="970" x2="3902" y2="970"/>
<line x1="2706" y1="1194" x2="3902" y2="1194" stroke-width="2.5"/>
</g>
<g stroke="#555" stroke-width="1">
<line x1="2892" y1="691" x2="2892" y2="736"/><line x1="3025" y1="691" x2="3025" y2="736"/><line x1="3130" y1="691" x2="3130" y2="736"/><line x1="3196" y1="691" x2="3196" y2="736"/><line x1="3337" y1="691" x2="3337" y2="736"/><line x1="3479" y1="691" x2="3479" y2="736"/><line x1="3620" y1="691" x2="3620" y2="736"/><line x1="3761" y1="691" x2="3761" y2="736"/>
<line x1="2892" y1="764" x2="2892" y2="942"/><line x1="3025" y1="764" x2="3025" y2="942"/><line x1="3130" y1="764" x2="3130" y2="942"/><line x1="3196" y1="764" x2="3196" y2="942"/><line x1="3337" y1="764" x2="3337" y2="942"/><line x1="3479" y1="764" x2="3479" y2="942"/><line x1="3620" y1="764" x2="3620" y2="942"/><line x1="3761" y1="764" x2="3761" y2="942"/>
<line x1="2892" y1="970" x2="2892" y2="1194"/><line x1="3025" y1="970" x2="3025" y2="1194"/><line x1="3130" y1="970" x2="3130" y2="1194"/><line x1="3196" y1="970" x2="3196" y2="1194"/><line x1="3337" y1="970" x2="3337" y2="1194"/><line x1="3479" y1="970" x2="3479" y2="1194"/><line x1="3620" y1="970" x2="3620" y2="1194"/><line x1="3761" y1="970" x2="3761" y2="1194"/>
</g>
<g class="t" text-anchor="middle">
<text x="2799" y="719">Method</text><text x="2959" y="719">Mode</text><text x="3077" y="719">Backbone</text>
<text x="3163" y="707">Test</text><text x="3163" y="730">size</text>
<text x="3267" y="707">DeepGlobe</text><text x="3267" y="730">2448×2448</text>
<text x="3408" y="707">FBP</text><text x="3408" y="730">6800×7200</text>
<text x="3550" y="707">Aerial Inria</text><text x="3550" y="730">5000×5000</text>
<text x="3690" y="707">Gleason</text><text x="3690" y="730">5120×5120</text>
<text x="3831" y="707">Cityscapes</text><text x="3831" y="730">2048×1024</text>
</g>
<text class="t" x="2718" y="758" font-style="italic" font-weight="bold">Ultra Image Segmentation Methods</text>
<text class="t" x="2718" y="963" font-style="italic" font-weight="bold">General Semantic Segmentation Methods</text>
<g class="t">
<text x="2718" y="780">GLNet [<tspan class="g">6</tspan>]</text>
<text x="2718" y="802">PPN [<tspan class="g">45</tspan>]</text>
<text x="2718" y="825">MagNet [<tspan class="g">16</tspan>]</text>
<text x="2718" y="847">FCtL [<tspan class="g">24</tspan>]</text>
<text x="2718" y="869">ISDNet [<tspan class="g">14</tspan>]</text>
<text x="2718" y="891">ElegantSeg [<tspan class="g">5</tspan>]</text>
<text x="2718" y="913">WSDNet [<tspan class="g">20</tspan>]</text>
<text x="2718" y="936">GPWFormer [<tspan class="g">19</tspan>]</text>
<text x="2718" y="986">FCN [<tspan class="g">27</tspan>]</text>
<text x="2761" y="1008" font-weight="bold" font-style="italic">+ SGNet</text>
<text x="2718" y="1031">DeepLabV3Plus [<tspan class="g">4</tspan>]</text>
<text x="2761" y="1053" font-weight="bold" font-style="italic">+ SGNet</text>
<text x="2718" y="1075">HRNet [<tspan class="g">38</tspan>]</text>
<text x="2761" y="1098" font-weight="bold" font-style="italic">+ SGNet</text>
<text x="2718" y="1120">SegFormer [<tspan class="g">46</tspan>]</text>
<text x="2761" y="1142" font-weight="bold" font-style="italic">+ SGNet</text>
<text x="2718" y="1165">STDC [<tspan class="g">12</tspan>]</text>
<text x="2761" y="1187" font-weight="bold" font-style="italic">+ SGNet</text>
</g>
<g class="t" text-anchor="middle">
<text x="2959" y="780">Slide+Whole</text><text x="3077" y="780">R50</text><text x="3163" y="780">508</text><text x="3267" y="780">71.60</text><text x="3408" y="780">42.05</text><text x="3550" y="780">71.20</text><text x="3690" y="780">-</text><text x="3831" y="780">-</text>
<text x="2959" y="802">Slide+Whole</text><text x="3077" y="802">R50</text><text x="3163" y="802">512</text><text x="3267" y="802">71.90</text><text x="3408" y="802">-</text><text x="3550" y="802">-</text><text x="3690" y="802">-</text><text x="3831" y="802">75.20</text>
<text x="2959" y="825">Slide+Whole</text><text x="3077" y="825">R50</text><text x="3163" y="825">508</text><text x="3267" y="825">72.96</text><text x="3408" y="825">44.20</text><text x="3550" y="825">-</text><text x="3690" y="825">-</text><text x="3831" y="825">67.57</text>
<text x="2959" y="847">Slide</text><text x="3077" y="847">VGG16</text><text x="3163" y="847">508</text><text x="3267" y="847">72.76</text><text x="3408" y="847">48.28</text><text x="3550" y="847">72.87</text><text x="3690" y="847">-</text><text x="3831" y="847">-</text>
<text x="2959" y="869">Whole</text><text x="3077" y="869">R18</text><text x="3163" y="869">2448</text><text x="3267" y="869">73.30</text><text x="3408" y="869">21.98</text><text x="3550" y="869">74.23</text><text x="3690" y="869">59.97</text><text x="3831" y="869">76.02</text>
<text x="2959" y="891">Whole</text><text x="3077" y="891">W48</text><text x="3163" y="891">2448</text><text x="3267" y="891">74.32</text><text x="3408" y="891">61.62</text><text x="3550" y="891">-</text><text x="3690" y="891">-</text><text x="3831" y="891">-</text>
<text x="2959" y="913">Whole</text><text x="3077" y="913">R50</text><text x="3163" y="913">2448</text><text x="3267" y="913">74.10</text><text x="3408" y="913">-</text><text x="3550" y="913">75.20</text><text x="3690" y="913">-</text><text x="3831" y="913">-</text>
<text x="2959" y="936">Slide+Whole</text><text x="3077" y="936">R50</text><text x="3163" y="936">500</text><text x="3267" y="936">75.80</text><text x="3408" y="936">-</text><text x="3550" y="936">76.50</text><text x="3690" y="936">-</text><text x="3831" y="936">78.10</text>
<text x="2959" y="986">Slide</text><text x="3077" y="986">R50</text><text x="3163" y="986">512</text>
<text x="2959" y="1008">Slide</text><text x="3077" y="1008">R50</text><text x="3163" y="1008">512</text>
<text x="2959" y="1031">Slide</text><text x="3077" y="1031">R50</text><text x="3163" y="1031">512</text>
<text x="2959" y="1053">Slide</text><text x="3077" y="1053">R50</text><text x="3163" y="1053">512</text>
<text x="2959" y="1075">Slide</text><text x="3077" y="1075">W18</text><text x="3163" y="1075">512</text>
<text x="2959" y="1098">Slide</text><text x="3077" y="1098">W18</text><text x="3163" y="1098">512</text>
<text x="2959" y="1120">Slide</text><text x="3077" y="1120">Mit-b0</text><text x="3163" y="1120">512</text>
<text x="2959" y="1142">Slide</text><text x="3077" y="1142">Mit-b0</text><text x="3163" y="1142">512</text>
<text x="2959" y="1165">Slide</text><text x="3077" y="1165">R50</text><text x="3163" y="1165">512</text>
<text x="2959" y="1187">Slide</text><text x="3077" y="1187">R50</text><text x="3163" y="1187">512</text>
</g>
<g class="t">
<text x="3208" y="986">72.38</text><text x="3350" y="986">59.97</text><text x="3491" y="986">80.35</text><text x="3632" y="986">52.65</text><text x="3773" y="986">72.39</text>
<text x="3208" y="1008">75.28 <tspan font-weight="bold">(+2.90)</tspan></text><text x="3350" y="1008">61.85 (+1.88)</text><text x="3491" y="1008">80.81 (+0.46)</text><text x="3632" y="1008">58.46 (+5.81)</text><text x="3773" y="1008">75.84 <tspan font-weight="bold">(+3.45)</tspan></text>
<text x="3208" y="1031">73.22</text><text x="3350" y="1031">61.85</text><text x="3491" y="1031">80.88</text><text x="3632" y="1031">55.45</text><text x="3773" y="1031">75.24</text>
<text x="3208" y="1053"><tspan font-weight="bold">75.44</tspan> (+2.22)</text><text x="3350" y="1053"><tspan font-weight="bold">63.18</tspan> (+1.33)</text><text x="3491" y="1053"><tspan font-weight="bold">81.21</tspan> (+0.33)</text><text x="3632" y="1053"><tspan font-weight="bold">61.21</tspan> (+5.76)</text><text x="3773" y="1053"><tspan font-weight="bold">76.72</tspan> (+1.48)</text>
<text x="3208" y="1075">72.87</text><text x="3350" y="1075">58.55</text><text x="3491" y="1075">79.17</text><text x="3632" y="1075">54.31</text><text x="3773" y="1075">71.20</text>
<text x="3208" y="1098">75.25 (+2.38)</text><text x="3350" y="1098">61.49 (+2.94)</text><text x="3491" y="1098">80.08 (+0.91)</text><text x="3632" y="1098">60.50 <tspan font-weight="bold">(+6.19)</tspan></text><text x="3773" y="1098">73.06 (+1.86)</text>
<text x="3208" y="1120">72.96</text><text x="3350" y="1120">57.56</text><text x="3491" y="1120">76.26</text><text x="3632" y="1120">49.62</text><text x="3773" y="1120">67.08</text>
<text x="3208" y="1142">74.65 (+1.69)</text><text x="3350" y="1142">60.35 (+2.79)</text><text x="3491" y="1142">78.80 <tspan font-weight="bold">(+2.54)</tspan></text><text x="3632" y="1142">54.86 (+5.24)</text><text x="3773" y="1142">70.42 (+3.34)</text>
<text x="3208" y="1165">72.59</text><text x="3350" y="1165">54.38</text><text x="3491" y="1165">75.20</text><text x="3632" y="1165">54.51</text><text x="3773" y="1165">66.24</text>
<text x="3208" y="1187">74.51 (+1.92)</text><text x="3350" y="1187">59.40 <tspan font-weight="bold">(+5.02)</tspan></text><text x="3491" y="1187">77.25 (+2.05)</text><text x="3632" y="1187">60.36 (+5.85)</text><text x="3773" y="1187">69.36 (+3.12)</text>
</g>
<text class="s" x="3304" y="1245" font-size="38" text-anchor="middle" textLength="735" lengthAdjust="spacingAndGlyphs">Comparison with baseline on five datasets.</text>

<use href="#city" x="2704" y="1332" width="281" height="150"/>
<use href="#city" x="2704" y="1491" width="281" height="150"/>
<use href="#city" x="2704" y="1649" width="281" height="151"/>
<use href="#city" x="3012" y="1332" width="282" height="150"/>
<use href="#city" x="3012" y="1491" width="282" height="150"/>
<use href="#city" x="3012" y="1649" width="282" height="151"/>
<g class="a" font-size="10" fill="#333">
<text x="2928" y="1476">mIoU 79.1</text><text x="2928" y="1635">mIoU 74.5</text><text x="2928" y="1794">mIoU 76.2</text>
<text x="3237" y="1476">mIoU 79.3</text><text x="3237" y="1635">mIoU 77.0</text><text x="3237" y="1794">mIoU 79.4</text>
</g>
<rect x="3324" y="1332" width="185" height="206" fill="#EDE6EC"/>
<ellipse cx="3416" cy="1432" rx="88" ry="96" fill="url(#tis)"/>
<use href="#gl" x="3523" y="1332" width="183" height="206"/>
<use href="#gl" x="3721" y="1332" width="184" height="206"/>
<rect x="3320" y="1596" width="184" height="205" fill="#000"/>
<path d="M3335,1650 C3340,1610 3380,1598 3420,1600 C3470,1602 3495,1640 3492,1690 C3490,1750 3460,1780 3420,1790 C3370,1800 3330,1770 3326,1720 Z" fill="#00F000"/>
<rect x="3408" y="1785" width="14" height="16" fill="#00F000"/>
<use href="#gl" x="3519" y="1596" width="184" height="205"/>
<use href="#gl" x="3716" y="1596" width="185" height="205"/>
<g fill="none" stroke="#E00" stroke-width="1.5">
<rect x="3560" y="1400" width="18" height="20"/><rect x="3615" y="1480" width="18" height="20"/><rect x="3670" y="1440" width="18" height="20"/><rect x="3760" y="1420" width="18" height="20"/><rect x="3830" y="1510" width="18" height="20"/>
<rect x="3560" y="1620" width="18" height="20"/><rect x="3650" y="1620" width="18" height="20"/><rect x="3740" y="1660" width="18" height="20"/><rect x="3820" y="1780" width="18" height="20"/>
</g>
<rect x="3612" y="1478" width="16" height="14" fill="#00c"/><rect x="3555" y="1382" width="12" height="10" fill="#00c"/>
<g class="cap">
<text x="2845" y="1830">(a)  w/o SCB</text><text x="3153" y="1830">(b)  w/ SCB</text>
<text x="3416" y="1569">(a)  Image</text><text x="3614" y="1569">(b)  HRNet</text><text x="3813" y="1569">(c)  Deeplab</text>
<text x="3412" y="1832">(d)  GT</text><text x="3611" y="1832">(e)  HRNet+SCB</text><text x="3809" y="1832">(f)  Deeplab+SCB</text>
</g>
<text class="s" x="3306" y="1898" font-size="38" text-anchor="middle" textLength="837" lengthAdjust="spacingAndGlyphs">Comparison of adding SCB on different models.</text>

<rect x="2692" y="1984" width="230" height="228" fill="#A68A68"/>
<path d="M2800,2020 C2830,2000 2922,2005 2922,2005 L2922,2212 L2790,2212 C2800,2170 2780,2120 2800,2090 C2810,2060 2790,2040 2800,2020 Z" fill="#27332F"/>
<rect x="2692" y="1984" width="230" height="40" fill="#8A7558" opacity="0.6"/>
<use href="#mask" x="2939" y="1984" width="229" height="228"/>
<use href="#mask" x="3185" y="1984" width="228" height="228"/>
<use href="#mask" x="3431" y="1984" width="230" height="228"/>
<use href="#mask" x="3676" y="1984" width="230" height="228"/>
<rect x="3220" y="2075" width="20" height="14" fill="#0ff"/><ellipse cx="3475" cy="2150" rx="18" ry="10" fill="#FFFF00"/>
<rect x="2692" y="2226" width="230" height="227" fill="url(#aer)"/>
<rect x="2939" y="2226" width="229" height="227" fill="url(#bld)"/>
<rect x="3185" y="2226" width="228" height="227" fill="url(#bldg)"/>
<rect x="3431" y="2226" width="230" height="227" fill="url(#bldg)"/>
<rect x="3676" y="2226" width="230" height="227" fill="url(#bldg)"/>
<g fill="none" stroke="#E00" stroke-width="2.5">
<rect x="2693" y="2318" width="228" height="134"/><rect x="2715" y="2227" width="178" height="90" stroke-dasharray="7,5"/>
<rect x="2940" y="2318" width="227" height="134"/><rect x="2962" y="2227" width="178" height="90" stroke-dasharray="7,5"/>
<rect x="3186" y="2318" width="226" height="134"/><rect x="3208" y="2227" width="178" height="90" stroke-dasharray="7,5"/>
<rect x="3432" y="2318" width="228" height="134"/><rect x="3454" y="2227" width="178" height="90" stroke-dasharray="7,5"/>
<rect x="3677" y="2318" width="228" height="134"/><rect x="3699" y="2227" width="178" height="90" stroke-dasharray="7,5"/>
</g>
<g class="cap">
<text x="2808" y="2514">(a)  Image</text><text x="3053" y="2514">(b)  Ground Truth</text><text x="3299" y="2514">(c)  FCtL</text><text x="3546" y="2514">(d)  ISDNet</text><text x="3791" y="2514">(e)  Ours</text>
</g>
<text class="s" x="3302" y="2578" font-size="40" text-anchor="middle" textLength="680" lengthAdjust="spacingAndGlyphs">The visualization of different methods.</text>
</svg>
</body></html>
